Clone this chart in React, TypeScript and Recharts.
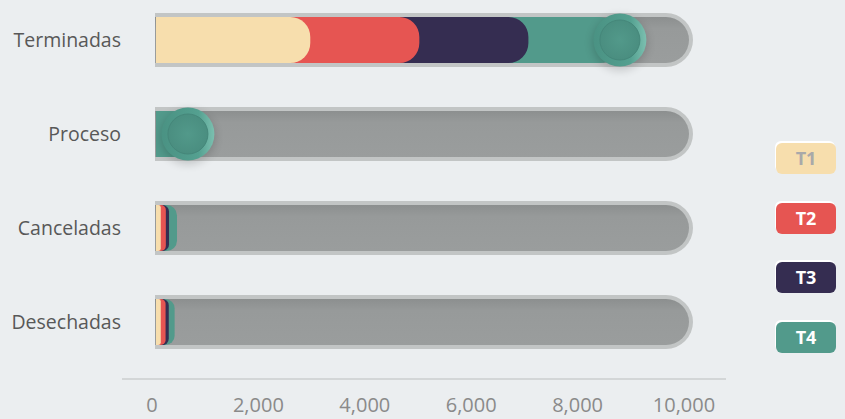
import React from 'react';
import { BarChart, Bar, XAxis, YAxis, Rectangle } from 'recharts';

const categories = ['Terminadas', 'Proceso', 'Canceladas', 'Desechadas'];
const t1 = [2900, 0, 90, 90];
const t2 = [2050, 0, 95, 90];
const t3 = [2050, 0, 60, 60];
const t4 = [1720, 600, 150, 110];
const showKnob = [true, true, false, false];
const xTicks = [0, 2000, 4000, 6000, 8000, 10000];

const seriesNames = ['T1', 'T2', 'T3', 'T4'];
const seriesColors = ['#f7dead', '#e65552', '#352d51', '#529a8b'];
const legendTextColors = ['#a9a9a9', '#ffffff', '#ffffff', '#ffffff'];

// cumulative ends, so each segment can be drawn from 0 and overlap the next one
const data = categories.map((name, i) => ({
  name,
  c1: t1[i],
  c2: t1[i] + t2[i],
  c3: t1[i] + t2[i] + t3[i],
  c4: t1[i] + t2[i] + t3[i] + t4[i],
  knob: showKnob[i],
}));

const Track = (props: any) => {
  const { x, y, width, height } = props;
  const pad = 4;
  const left = x - 1;
  const right = x + width + 5;
  const top = y - pad;
  const h = height + pad * 2;
  const r = h / 2;
  const outer = `M${left},${top} H${right - r} A${r},${r} 0 0 1 ${right - r},${top + h} H${left} Z`;
  const ir = height / 2;
  const iright = right - pad;
  const inner = `M${left},${y} H${iright - ir} A${ir},${ir} 0 0 1 ${iright - ir},${y + height} H${left} Z`;
  return (
    <g>
      <path d={outer} fill="#c2c5c5" />
      <path d={inner} fill="url(#trackFill)" />
    </g>
  );
};

const TotalShape = (props: any) => {
  const { x, y, width, height, fill, payload } = props;
  const cx = x + width;
  const cy = y + height / 2;
  return (
    <g>
      <Rectangle x={x} y={y} width={width} height={height} fill={fill} radius={[0, 20, 20, 0]} />
      {payload && payload.knob && (
        <g>
          <circle cx={cx} cy={cy + 3} r={27} fill="#000" opacity={0.18} filter="url(#knobBlur)" />
          <circle cx={cx} cy={cy} r={26.5} fill="url(#knobRing)" />
          <circle cx={cx} cy={cy} r={20} fill="url(#knobCore)" stroke="#45877a" strokeWidth={1} />
        </g>
      )}
    </g>
  );
};

const App: React.FC = () => {
  return (
    <div
      style={{
        position: 'absolute',
        left: 0,
        top: 0,
        width: 845,
        height: 419,
        background: '#ebeef0',
        overflow: 'hidden',
        fontFamily: "'Open Sans', sans-serif",
      }}
    >
      <div style={{ position: 'absolute', top: -7, left: 0 }}>
        <BarChart
          width={845}
          height={426}
          data={data}
          layout="vertical"
          margin={{ top: 0, right: 157, bottom: 0, left: 0 }}
        >
          <defs>
            <linearGradient id="trackFill" x1="0" y1="0" x2="0" y2="1">
              <stop offset="0%" stopColor="#8c8f8f" />
              <stop offset="25%" stopColor="#979a9a" />
              <stop offset="100%" stopColor="#9a9d9d" />
            </linearGradient>
            <linearGradient id="knobRing" x1="0" y1="0" x2="1" y2="0">
              <stop offset="0%" stopColor="#4a9283" />
              <stop offset="70%" stopColor="#54a090" />
              <stop offset="100%" stopColor="#7cc0b0" />
            </linearGradient>
            <radialGradient id="knobCore">
              <stop offset="0%" stopColor="#52998a" />
              <stop offset="100%" stopColor="#4a8e80" />
            </radialGradient>
            <filter id="knobBlur" x="-50%" y="-50%" width="200%" height="200%">
              <feGaussianBlur stdDeviation="5" />
            </filter>
          </defs>
          <XAxis
            type="number"
            domain={[0, 10000]}
            ticks={xTicks}
            tickFormatter={(v: number) => v.toLocaleString('en-US')}
            axisLine={false}
            tickLine={false}
            tickSize={0}
            tickMargin={29}
            height={50}
            tick={{ fill: '#8a8a8a', fontSize: 20, dx: -4 }}
          />
          <YAxis yAxisId="c3" type="category" dataKey="name" hide width={0} />
          <YAxis yAxisId="c2" type="category" dataKey="name" hide width={0} />
          <YAxis yAxisId="c1" type="category" dataKey="name" hide width={0} />
          <YAxis
            yAxisId="c4"
            type="category"
            dataKey="name"
            width={156}
            axisLine={false}
            tickLine={false}
            tickSize={0}
            tickMargin={35}
            tick={{ fill: '#585858', fontSize: 19.5 }}
          />
          <Bar
            yAxisId="c4"
            dataKey="c4"
            name={seriesNames[3]}
            fill={seriesColors[3]}
            barSize={46}
            background={Track}
            shape={TotalShape}
            isAnimationActive={false}
          />
          <Bar
            yAxisId="c3"
            dataKey="c3"
            name={seriesNames[2]}
            fill={seriesColors[2]}
            barSize={46}
            radius={[0, 20, 20, 0]}
            isAnimationActive={false}
          />
          <Bar
            yAxisId="c2"
            dataKey="c2"
            name={seriesNames[1]}
            fill={seriesColors[1]}
            barSize={46}
            radius={[0, 20, 20, 0]}
            isAnimationActive={false}
          />
          <Bar
            yAxisId="c1"
            dataKey="c1"
            name={seriesNames[0]}
            fill={seriesColors[0]}
            barSize={46}
            radius={[0, 20, 20, 0]}
            isAnimationActive={false}
          />
        </BarChart>
      </div>
      <div style={{ position: 'absolute', left: 122, top: 378, width: 604, height: 2, background: '#d3d6d7' }} />
      <div style={{ position: 'absolute', left: 776, top: 143 }}>
        {seriesNames.map((s, i) => (
          <div
            key={s}
            style={{
              width: 60,
              height: 31,
              marginBottom: 28.5,
              borderRadius: 6,
              background: seriesColors[i],
              boxShadow: '-1px -2px 0 #ffffff',
              color: legendTextColors[i],
              fontWeight: 700,
              fontSize: 18,
              lineHeight: '31px',
              textAlign: 'center',
            }}
          >
            {s}
          </div>
        ))}
      </div>
    </div>
  );
};

export default App;
